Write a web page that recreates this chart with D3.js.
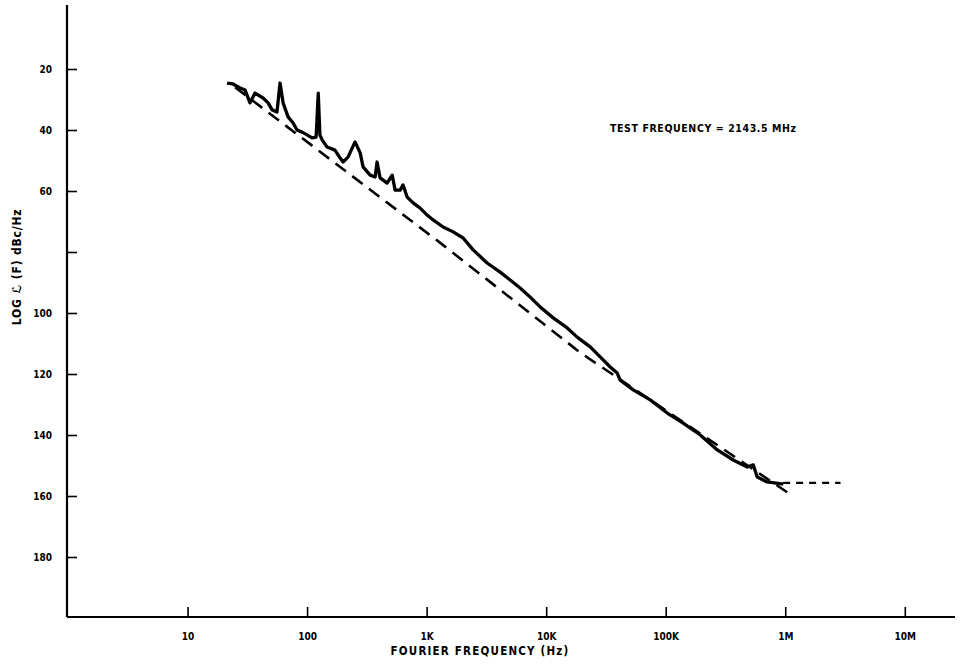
<!DOCTYPE html>
<html><head><meta charset="utf-8">
<script src="https://cdn.jsdelivr.net/npm/d3@7"></script>
<style>body{margin:0;background:#fff}svg{display:block}</style>
</head><body>
<svg id="c" width="961" height="665"></svg>
<script>
// Data
const xTickValues = [10, 100, 1e3, 1e4, 1e5, 1e6, 1e7];
const xTickLabels = ["10", "100", "1K", "10K", "100K", "1M", "10M"];
const yTickValues = [20, 40, 60, 80, 100, 120, 140, 160, 180];
const yTickLabels = ["20", "40", "60", "", "100", "120", "140", "160", "180"];
const titleText = "TEST FREQUENCY = 2143.5 MHz";
const xTitle = "FOURIER FREQUENCY (Hz)";
const yTitle = "LOG \u2112 (F) dBc/Hz";

// measured phase noise (Hz, dBc/Hz as positive magnitude)
const measFreq = [21.4, 24, 27.5, 30.3, 33.3, 36.7, 42.8, 47.2, 51, 56, 59.4, 63, 69.3, 76.4, 82.4, 90.8, 100, 110, 119, 124, 128, 134, 147, 171, 189, 200, 220, 252, 278, 294, 337, 371, 385, 408, 467, 515, 545, 600, 635, 687, 771, 883, 1010, 1133, 1374, 1667, 2020, 2449, 3207, 4120, 5000, 6057, 7350, 8910, 11450, 15000, 18160, 23350, 28300, 34350, 39300, 41600, 53500, 74200, 103000, 140000, 194500, 270000, 367000, 481000, 540000, 583000, 706000, 962000];
const measLevel = [24.6, 24.9, 26.2, 26.9, 31.1, 27.9, 29.5, 31.1, 33.4, 34.1, 24.6, 31.1, 35.7, 37.7, 40, 40.7, 41.6, 42.6, 42.3, 27.9, 41.6, 43.3, 45.6, 46.6, 49.2, 50.5, 48.9, 43.9, 47.5, 52.1, 54.8, 55.4, 50.5, 55.7, 57.4, 54.8, 59.7, 59.7, 58, 62, 63.9, 65.6, 67.9, 69.5, 71.8, 73.4, 75.4, 79.3, 83.6, 86.6, 89.2, 91.8, 94.8, 98, 101.6, 104.9, 107.9, 111.1, 114.4, 117.7, 119.7, 122, 125.2, 128.5, 132.8, 136.1, 140, 144.9, 148.2, 150.5, 149.8, 153.8, 155.4, 156.1];

// asymptote (dashed)
const asymFreq = [25, 1300, 19300, 1060000];
const asymLevel = [26, 77, 113, 159];
// noise floor (short dashes)
const floorFreq = [960000, 2900000];
const floorLevel = [155.7, 155.7];

const svg = d3.select("#c");
const font = "'DejaVu Sans Condensed','DejaVu Sans',sans-serif";

const x = d3.scaleLog().domain([1, Math.pow(10, 7.42)]).range([68, 955]);
const y = d3.scaleLinear().domain([0, 200]).range([8, 618]);
const x0 = 67, yBase = 617;

// axes lines
svg.append("line").attr("x1", x0).attr("x2", x0).attr("y1", 5).attr("y2", yBase)
  .attr("stroke", "#000").attr("stroke-width", 2.2);
svg.append("line").attr("x1", x0).attr("x2", 955).attr("y1", yBase).attr("y2", yBase)
  .attr("stroke", "#000").attr("stroke-width", 2.2);

// x ticks via d3 axis
const xAxis = d3.axisBottom(x).tickValues(xTickValues)
  .tickFormat((d, i) => xTickLabels[i]).tickSize(-10).tickPadding(16);
const gx = svg.append("g").attr("transform", `translate(0,${yBase})`).call(xAxis);
gx.select(".domain").remove();
gx.selectAll(".tick line").attr("stroke", "#000").attr("stroke-width", 1.6);
gx.selectAll(".tick text").attr("font-family", font).attr("font-weight", "bold")
  .attr("font-size", 10).attr("fill", "#000");

// y ticks via d3 axis
const yAxis = d3.axisLeft(y).tickValues(yTickValues)
  .tickFormat((d, i) => yTickLabels[i]).tickSize(-10).tickPadding(15);
const gy = svg.append("g").attr("transform", `translate(${x0},0)`).call(yAxis);
gy.select(".domain").remove();
gy.selectAll(".tick line").attr("stroke", "#000").attr("stroke-width", 1.6);
gy.selectAll(".tick text").attr("font-family", font).attr("font-weight", "bold")
  .attr("font-size", 10).attr("fill", "#000");

// lines
const line = d3.line().x(d => x(d[0])).y(d => y(d[1]));
const asym = asymFreq.map((f, i) => [f, asymLevel[i]]);
svg.append("path").attr("d", line(asym)).attr("fill", "none")
  .attr("stroke", "#000").attr("stroke-width", 2.6).attr("stroke-dasharray", "13,8");
const floor = floorFreq.map((f, i) => [f, floorLevel[i]]);
svg.append("path").attr("d", line(floor)).attr("fill", "none")
  .attr("stroke", "#000").attr("stroke-width", 2.2).attr("stroke-dasharray", "7,6");
const meas = measFreq.map((f, i) => [f, measLevel[i]]);
svg.append("path").attr("d", line(meas)).attr("fill", "none")
  .attr("stroke", "#000").attr("stroke-width", 3.3).attr("stroke-linejoin", "round");

// texts
svg.append("text").attr("x", 610).attr("y", 132).text(titleText)
  .attr("font-family", font).attr("font-weight", "bold").attr("font-size", 10.5)
  .attr("letter-spacing", 0.6);
svg.append("text").attr("x", 480).attr("y", 655).attr("text-anchor", "middle").text(xTitle)
  .attr("font-family", font).attr("font-weight", "bold").attr("font-size", 11.5)
  .attr("letter-spacing", 1.2);
svg.append("text").attr("transform", "translate(21,267) rotate(-90)").attr("text-anchor", "middle")
  .text(yTitle).attr("font-family", font).attr("font-weight", "bold").attr("font-size", 12)
  .attr("letter-spacing", 0.8);
</script>
</body></html>
